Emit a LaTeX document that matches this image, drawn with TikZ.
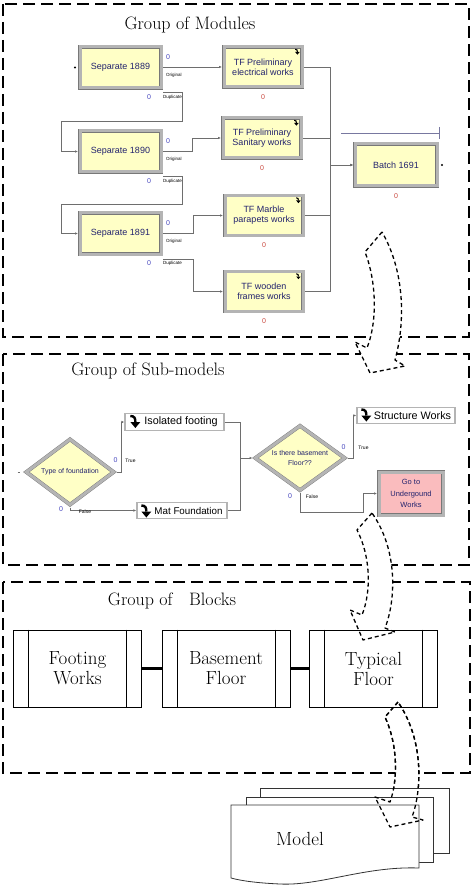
\documentclass[tikz,border=0pt]{standalone}
\usepackage{fontspec}
\newfontfamily\arena{Liberation Sans}
\usetikzlibrary{shapes.geometric, arrows.meta, positioning, calc}
\definecolor{modyellow}{RGB}{255, 255, 198}
\definecolor{bevelgray}{RGB}{180, 180, 180}
\definecolor{edgegray}{RGB}{120, 120, 120}
\definecolor{textnavy}{RGB}{35, 35, 110}
\definecolor{cntblue}{RGB}{70, 70, 190}
\definecolor{cntred}{RGB}{200, 70, 60}
\definecolor{gotopink}{RGB}{250, 188, 190}
\definecolor{linegray}{RGB}{110, 110, 110}
\definecolor{queueblue}{RGB}{120, 120, 160}

% small black "down" icon of the process boxes
\newcommand{\dnmark}[2][1]{%
  \begin{scope}[shift={#2}, scale=#1]
    \draw[line width={2.4pt*#1}] (-4,-6) .. controls (0,-6) and (1,-4) .. (1,0);
    \fill (-4,0) -- (6,0) -- (1,6) -- cycle;
  \end{scope}}

\begin{document}
\begin{tikzpicture}[x=1pt, y=-1pt,
    grp/.style={draw=black, line width=2pt, dash pattern=on 12pt off 6pt},
    flow/.style={draw=black, line width=1.3pt, dash pattern=on 4pt off 3pt, line join=round},
    title/.style={font=\fontsize{18}{20}\selectfont},
    module/.style={rectangle, draw=edgegray, double=bevelgray, double distance=3pt, fill=modyellow, text=textnavy, font=\arena\fontsize{9}{10}\selectfont, align=center, inner sep=1pt, outer sep=2pt},
    decide/.style={diamond, draw=edgegray, double=bevelgray, double distance=3pt, fill=modyellow, text=textnavy, font=\arena\fontsize{7}{10}\selectfont, align=center, inner sep=0.5pt, outer sep=2pt, shape aspect=1.4},
    subbox/.style={rectangle, draw=bevelgray, line width=1.3pt, fill=white, font=\arena\fontsize{10.8}{12}\selectfont, minimum height=16.5pt, inner sep=0.5pt},
    block/.style={rectangle, draw, line width=1pt, minimum width=128pt, minimum height=77pt, align=center, font=\fontsize{19}{20}\selectfont},
    conn/.style={draw=linegray, line width=0.6pt, -{Latex[length=3pt, width=2.6pt]}},
    cntb/.style={text=cntblue, font=\arena\fontsize{7}{8}\selectfont, inner sep=0pt},
    cntr/.style={text=cntred, font=\arena\fontsize{7}{8}\selectfont, inner sep=0pt},
    tag/.style={font=\arena\fontsize{4.5}{5}\selectfont, inner sep=0pt},
    link/.style={line width=2.4pt},
    sheet/.style={draw=black!80, line width=0.8pt, fill=white}
]
    \useasboundingbox (0,0) rectangle (474,885);

    % Group frames
    \draw[grp] (3,4) rectangle (469,337);
    \draw[grp] (3,354) rectangle (469,565);
    \draw[grp] (3,582) rectangle (470,773);

    % Curved flow arrows between groups
    \draw[flow, fill=white] (382,232) -- (365,252) .. controls (376,280) and (378,320) .. (367,348) -- (355,342) -- (370,373) -- (405,366) -- (395,360) .. controls (406,320) and (404,270) .. (382,232) -- cycle;
    \draw[flow, fill=white] (372,513) -- (357,530) .. controls (370,555) and (372,590) .. (362,615) -- (350,610) -- (363,640) -- (395,632) -- (385,628) .. controls (396,600) and (398,550) .. (372,513) -- cycle;
    \draw[flow, fill=white] (398,702) -- (385,717) .. controls (398,745) and (398,780) .. (390,802) -- (375,797) -- (390,827) -- (423,820) -- (412,817) .. controls (422,790) and (424,740) .. (398,702) -- cycle;

    % Titles
    \node[title] (tmod) at (190,25) {Group of Modules};
    \node[title] (tsub) at (148,371) {Group of Sub-models};
    \node[title] (tblk) at (172,601) {Group of\ \ \ Blocks};

    % Group of Modules
    \node[module, minimum width=81pt, minimum height=41pt] (sep1) at (120.5,67.5) {Separate 1889};
    \node[module, minimum width=81pt, minimum height=41pt] (sep2) at (120.5,151.5) {Separate 1890};
    \node[module, minimum width=81pt, minimum height=41pt] (sep3) at (120.5,233.5) {Separate 1891};
    \node[module, minimum width=78pt, minimum height=40pt] (tf1) at (263,67) {TF Preliminary\\electrical works};
    \node[module, minimum width=78pt, minimum height=40pt] (tf2) at (262,138) {TF Preliminary\\Sanitary works};
    \node[module, minimum width=78pt, minimum height=40pt] (tf3) at (264,215.5) {TF Marble\\parapets works};
    \node[module, minimum width=78pt, minimum height=40pt] (tf4) at (264,291.5) {TF wooden\\frames works};
    \node[module, minimum width=82pt, minimum height=42pt] (batch) at (396,165) {Batch 1691};

    \draw[conn] (sep1.east) -- ++(30,0) |- (tf1.west);
    \draw[conn] (sep2.east) -- ++(29,0) |- (tf2.west);
    \draw[conn] (sep3.east) -- ++(30,0) |- (tf3.west);
    \draw[conn] ($(sep3.south east)+(0,3)$) -- ++(30,0) |- (tf4.west);
    \draw[conn] ($(sep1.south east)+(0,2)$) -- ++(19,0) |- ($(sep2.west)+(-17,-30)$) |- (sep2.west);
    \draw[conn] ($(sep2.south east)+(0,2)$) -- ++(19,0) |- ($(sep3.west)+(-17,-29)$) |- (sep3.west);

    \coordinate (bus) at (330,165);
    \foreach \t in {tf1,tf2,tf3,tf4}
        \draw[conn] (\t.east) -| (bus) -- (batch.west);

    \foreach \s in {sep1,sep2,sep3} {
        \node[cntb] (\s-q) at ($(\s.north east)+(5,12)$) {0};
        \node[tag, anchor=west] (\s-o) at ($(\s.east)+(3,8)$) {Original};
        \node[cntb] (\s-d) at ($(\s.south east)+(-14,7)$) {0};
        \node[tag, anchor=west] (\s-u) at ($(\s.south east)+(0,7)$) {Duplicate};
    }
    \foreach \t in {tf1,tf2,tf3,tf4,batch}
        \node[cntr] (\t-q) at ($(\t.south)+(0,8)$) {0};
    \foreach \t in {tf1,tf2,tf3,tf4}
        \dnmark[0.45]{($(\t.north east)+(-7,7)$)};

    \draw[queueblue, line width=0.7pt] (341,133) -- (439,133);
    \draw[queueblue, line width=0.7pt] (439,127) -- (439,139);
    \fill ($(sep1.west)+(-3,0)$) circle (1.1pt);
    \fill ($(batch.east)+(3,0)$) circle (1.1pt);

    % Group of Sub-models
    \node[decide, minimum width=89pt, minimum height=67pt] (dec1) at (70,472) {Type of foundation};
    \node[decide, minimum width=91pt, minimum height=66pt] (dec2) at (300,458) {Is there basement\\Floor??};
    \node[subbox, minimum width=99pt] (iso) at (174.5,422) {\hspace*{13pt}Isolated footing};
    \node[subbox, minimum width=90pt, font=\arena\fontsize{9.8}{11}\selectfont] (mat) at (182,510.5) {\hspace*{13pt}Mat Foundation};
    \node[subbox, minimum width=98pt] (struct) at (406,415.5) {\hspace*{13pt}Structure Works};
    \node[module, fill=gotopink, minimum width=64pt, minimum height=43pt, font=\arena\fontsize{7.5}{11.5}\selectfont] (goto) at (411,493.5) {Go to\\Undergound\\Works};

    \dnmark{($(iso.west)+(10,0)$)};
    \dnmark{($(mat.west)+(9,1)$)};
    \dnmark{($(struct.west)+(9,0)$)};

    \draw[conn] (dec1.east) -- ++(5,0) |- (iso.west);
    \draw[conn] (dec1.south) |- (mat.west);
    \coordinate (join) at (240,458);
    \draw[conn] (iso.east) -| (join) -- (dec2.west);
    \draw[conn, -] (mat.east) -| (join);
    \draw[conn] (dec2.east) -- ++(6,0) |- (struct.west);
    \draw[conn] (dec2.south) |- ($(goto.west)+(-14,19)$) |- (goto.west);
    \draw[linegray] ($(dec1.west)+(-6,0)$) -- ++(2,0);

    \node[cntb] (dec1-tq) at ($(dec1.east)+(-1,-12)$) {0};
    \node[tag, font=\arena\fontsize{5}{6}\selectfont] (dec1-t) at ($(dec1.east)+(14,-11)$) {True};
    \node[cntb] (dec1-fq) at ($(dec1.south)+(-9,2)$) {0};
    \node[tag, font=\arena\fontsize{5}{6}\selectfont] (dec1-f) at ($(dec1.south)+(15,4)$) {False};
    \node[cntb] (dec2-tq) at ($(dec2.east)+(-4,-11)$) {0};
    \node[tag, font=\arena\fontsize{5}{6}\selectfont] (dec2-t) at ($(dec2.east)+(16,-10)$) {True};
    \node[cntb] (dec2-fq) at ($(dec2.south)+(-10,3)$) {0};
    \node[tag, font=\arena\fontsize{5}{6}\selectfont] (dec2-f) at ($(dec2.south)+(12,4)$) {False};

    % Group of Blocks
    \node[block] (fw) at (77.5,668.5) {Footing\\Works};
    \node[block] (bf) at (226,668.5) {Basement\\Floor};
    \node[block] (typ) at (373.5,668.5) {Typical\\Floor};
    \draw[link] (fw) -- (bf);
    \draw[link] (bf) -- (typ);
    \foreach \b in {fw,bf,typ} {
        \draw[line width=1pt] ($(\b.north west)+(15.5,0)$) -- ($(\b.south west)+(15.5,0)$);
        \draw[line width=1pt] ($(\b.north east)+(-15.5,0)$) -- ($(\b.south east)+(-15.5,0)$);
    }

    % Model
    \draw[sheet] (260,788) rectangle (449,853);
    \draw[sheet] (246,797) rectangle (433,862);
    \draw[sheet] (231,805) -- (419,805) -- (419,868) .. controls (365,866) and (320,886) .. (280,884) .. controls (258,883) and (242,881) .. (231,878) -- cycle;
    \node (model) at (300,839) {\fontsize{19}{20}\selectfont Model};
    \draw[flow] (398,702) -- (385,717) .. controls (398,745) and (398,780) .. (390,802) -- (375,797) -- (390,827) -- (423,820) -- (412,817) .. controls (422,790) and (424,740) .. (398,702) -- cycle;
\end{tikzpicture}
\end{document}
